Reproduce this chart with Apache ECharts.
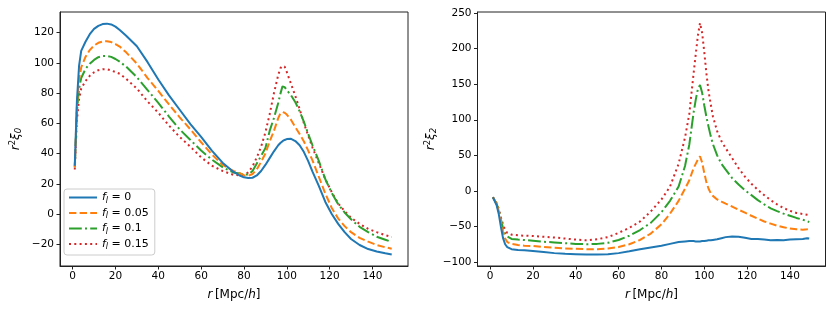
<!DOCTYPE html>
<html><head><meta charset="utf-8">
<script src="https://cdn.jsdelivr.net/npm/echarts@6/dist/echarts.min.js"></script>
<style>html,body{margin:0;padding:0;background:#fff}#c{width:834px;height:312px}</style>
</head><body><div id="c"></div>
<script>
// ---------- data ----------
const legendValues = ['0', '0.05', '0.1', '0.15'];
const xTicks = [0, 20, 40, 60, 80, 100, 120, 140];
const yTicksLeft = [-20, 0, 20, 40, 60, 80, 100, 120];
const yTicksRight = [-100, -50, 0, 50, 100, 150, 200, 250];

// monopole r^2 xi_0
const rLeft = [1,2,3,4,6,8,10,12,14,16, 18,20,22,25,30,35,40,45,50,55, 60,65,70,75,78,80,82,84,86,88, 90,92,94,96,97,98,99,100,102,104, 106,108,110,112,115,118,121,124,127,130, 134,138,142,146,149];
const xi0_f0   = [32,75,98,108,114,119,122.5,124.5,125.7,126, 125.5,124,121.8,118,111,100.5,89,78.5,69,59.5, 51,42,34,28,25.5,24.3,23.8,24,25.5,28.5, 32.5,37,41.5,45.5,47,48.2,49,49.6,49.8,48.3, 45.5,41,35,28,18.5,8,0,-6.5,-12,-16.5, -20.5,-23.2,-24.8,-26,-26.8];
const xi0_f005 = [31,72,89,97,104,108.5,111.5,113.3,114.2,114.4, 113.8,112.5,110.8,107,99.5,90,81.5,72.5,64,56, 47.5,39.5,32.5,28.5,27,25.7,25.3,26.5,29.5,34.5, 40,48,55,63.5,66.5,67.5,67,65.8,62.3,57.5, 53,48,42,35.5,24.5,13.5,4,-3,-8,-12, -15.8,-18.3,-20.5,-22,-23];
const xi0_f01  = [31,68,83,90,96,99.5,102,103.8,104.6,104.6, 104,102.6,100.8,97.5,90.5,82,73.5,64.5,56,49, 42,36,31,27.5,26.8,26,26.2,28.5,33.5,38.5, 43.5,55,63.5,73.5,79.5,84.5,84,82,78.5,74, 68,61,53,45.5,35,23,14,6.5,1,-3.5, -8.5,-12,-15,-17,-18.5];
const xi0_f015 = [29.5,62,76,83,88,91.5,93.8,95.2,95.8,95.8, 95,94,92.8,89.5,83,74.5,67,58.5,51,44.5, 37.5,32,28.5,26,25.5,26,27.5,31.5,37.5,44.5, 54,66,80,92,96.5,98,97.5,94,86,78, 69.5,60,52,44,33.5,23,14.5,7,2,-2.5, -6.5,-9.8,-12,-14,-15.2];

// quadrupole r^2 xi_2
const rRight = [1.3,3,4,5,6,7,8,10,13,16, 20,25,30,35,40,45,50,55,60,65, 70,75,80,84,88,91,93,95,96,97, 98,99,100,101,102,103,104,106,108,110, 113,116,119,122,125,128,131,134,137,140, 143,146,148,149];
const xi2_f0   = [-9,-20,-32,-50,-66,-75,-79,-82,-83,-83.5, -84.5,-86,-87.5,-88.5,-89,-89.5,-89.5,-89,-87.5,-85, -82,-79.5,-77,-74.5,-72,-71,-70.5,-70.5,-71,-71, -71,-70.5,-70.5,-70,-69.5,-69.5,-69,-68,-66.5,-65, -64,-64.5,-66,-67.5,-67.5,-68.5,-69.5,-69,-69.5,-68.5, -68,-67.5,-66.5,-67];
const xi2_f005 = [-9,-18,-28,-42,-57,-67,-72,-74.5,-76,-77, -77.5,-79,-80,-81,-81.5,-82,-82,-81,-79,-75, -69,-60,-47,-32,-14,3,15,32,38,44, 48.5,40,25,12,3,-3,-7,-12,-15,-18, -22,-26.5,-30.5,-35,-39,-43,-46,-49,-51,-53, -54,-54.5,-54,-53];
const xi2_f01  = [-9,-18,-27,-40,-52,-60,-64,-67.5,-68.5,-69, -70,-71.5,-72.5,-73.5,-74.5,-75,-74.5,-73,-69,-63, -55,-45,-30,-14,6,35,65,110,128,143, 149,138,120,104,90,77,66,50,38,30, 18,9,1,-6,-13,-19,-24.5,-28.5,-32,-35, -38,-40.5,-42.5,-44];
const xi2_f015 = [-9,-17,-25,-37,-47,-55,-59,-61.5,-62.5,-63, -63.5,-64.5,-65.5,-67,-68.5,-69.5,-68,-65,-59,-52, -43,-29,-12,6,38,75,108,165,192,218, 236,222,195,165,140,122,105,84,70,60, 46,32,20,10,1.5,-6,-13,-19,-24,-28, -31,-32.5,-33.5,-34];

// ---------- styling ----------
const colors = ['#1f77b4', '#ff7f0e', '#2ca02c', '#d62728'];
const dashes = ['solid', [7.4, 3.2], [12.8, 3.2, 2, 3.2], [2, 3.3]];
const FONT = 'DejaVu Sans';
const minus = v => (v < 0 ? '\u2212' + Math.abs(v) : String(v));

const leftSeries = [xi0_f0, xi0_f005, xi0_f01, xi0_f015];
const rightSeries = [xi2_f0, xi2_f005, xi2_f01, xi2_f015];
const names = legendValues.map(v => 'f_l = ' + v);

function mkSeries(xs, ys, i, gi) {
  return {
    name: names[i], type: 'line', xAxisIndex: gi, yAxisIndex: gi,
    data: xs.map((x, k) => [x, ys[k]]),
    symbol: 'none', showSymbol: false, smooth: false, animation: false,
    lineStyle: { color: colors[i], width: 2, type: dashes[i], cap: 'butt' },
    itemStyle: { color: colors[i] },
    z: 10 - i
  };
}

const richName = {
  i: { fontFamily: FONT, fontStyle: 'italic', fontSize: 12, color: '#000', lineHeight: 15 },
  n: { fontFamily: FONT, fontSize: 12, color: '#000', lineHeight: 15 },
  sup: { fontFamily: FONT, fontSize: 8.5, color: '#000', lineHeight: 9, verticalAlign: 'top' },
  sub: { fontFamily: FONT, fontSize: 8.5, fontStyle: 'italic', color: '#000', lineHeight: 8, verticalAlign: 'bottom' }
};

function xAxisCfg(gi) {
  return {
    type: 'value', gridIndex: gi, min: -5.9, max: 156.6,
    name: '{i|r}{n|\u2009[Mpc/}{i|h}{n|]}', nameLocation: 'middle', nameGap: 21,
    nameTextStyle: { rich: richName },
    axisLine: { show: true, onZero: false, lineStyle: { color: '#222', width: 1 } },
    axisTick: { show: true, inside: false, length: 3.5, lineStyle: { color: '#222', width: 1 }, customValues: xTicks },
    axisLabel: { show: true, margin: 5, color: '#000', fontFamily: FONT, fontSize: 10.5, customValues: xTicks, formatter: v => minus(v) },
    splitLine: { show: false }
  };
}
function yAxisCfg(gi, mn, mx, ticks, sub) {
  return {
    type: 'value', gridIndex: gi, min: mn, max: mx,
    name: '{i|r}{sup|2}{i|ξ}{sub|' + sub + '}', nameLocation: 'middle', nameRotate: 90, nameGap: 37,
    nameTextStyle: { rich: richName },
    axisLine: { show: true, onZero: false, lineStyle: { color: '#222', width: 1 } },
    axisTick: { show: true, inside: false, length: 3.5, lineStyle: { color: '#222', width: 1 }, customValues: ticks },
    axisLabel: { show: true, margin: 6, color: '#000', fontFamily: FONT, fontSize: 10.5, customValues: ticks, formatter: v => minus(v) },
    splitLine: { show: false }
  };
}

const chart = echarts.init(document.getElementById('c'), null, { renderer: 'canvas' });
chart.setOption({
  backgroundColor: '#fff',
  animation: false,
  grid: [
    { left: 60, top: 12, width: 348, height: 254, show: true, borderColor: '#222', borderWidth: 1, backgroundColor: 'transparent' },
    { left: 477.5, top: 12, width: 348, height: 254, show: true, borderColor: '#222', borderWidth: 1, backgroundColor: 'transparent' }
  ],
  xAxis: [xAxisCfg(0), xAxisCfg(1)],
  yAxis: [yAxisCfg(0, -34.4, 133.7, yTicksLeft, '0'), yAxisCfg(1, -105.6, 251.5, yTicksRight, '2')],
  legend: {
    orient: 'vertical', left: 64, top: 189,
    data: names,
    itemWidth: 28, itemHeight: 10, itemGap: 3,
    padding: [3, 6, 4, 4],
    backgroundColor: 'rgba(255,255,255,0.8)', borderColor: '#cccccc', borderWidth: 1, borderRadius: 3,
    itemStyle: { opacity: 0 },
    formatter: name => '{i|f}{s|l}{n| = ' + name.split('= ')[1] + '}',
    textStyle: {
      fontFamily: FONT, fontSize: 10.5, color: '#000',
      rich: {
        i: { fontFamily: FONT, fontStyle: 'italic', fontSize: 11, color: '#000', lineHeight: 14 },
        s: { fontFamily: FONT, fontStyle: 'italic', fontSize: 8, color: '#000', lineHeight: 7, verticalAlign: 'bottom' },
        n: { fontFamily: FONT, fontSize: 11, color: '#000', lineHeight: 14 }
      }
    },
    selectedMode: false
  },
  series: [
    ...leftSeries.map((ys, i) => mkSeries(rLeft, ys, i, 0)),
    ...rightSeries.map((ys, i) => mkSeries(rRight, ys, i, 1))
  ]
});
</script>
</body></html>
